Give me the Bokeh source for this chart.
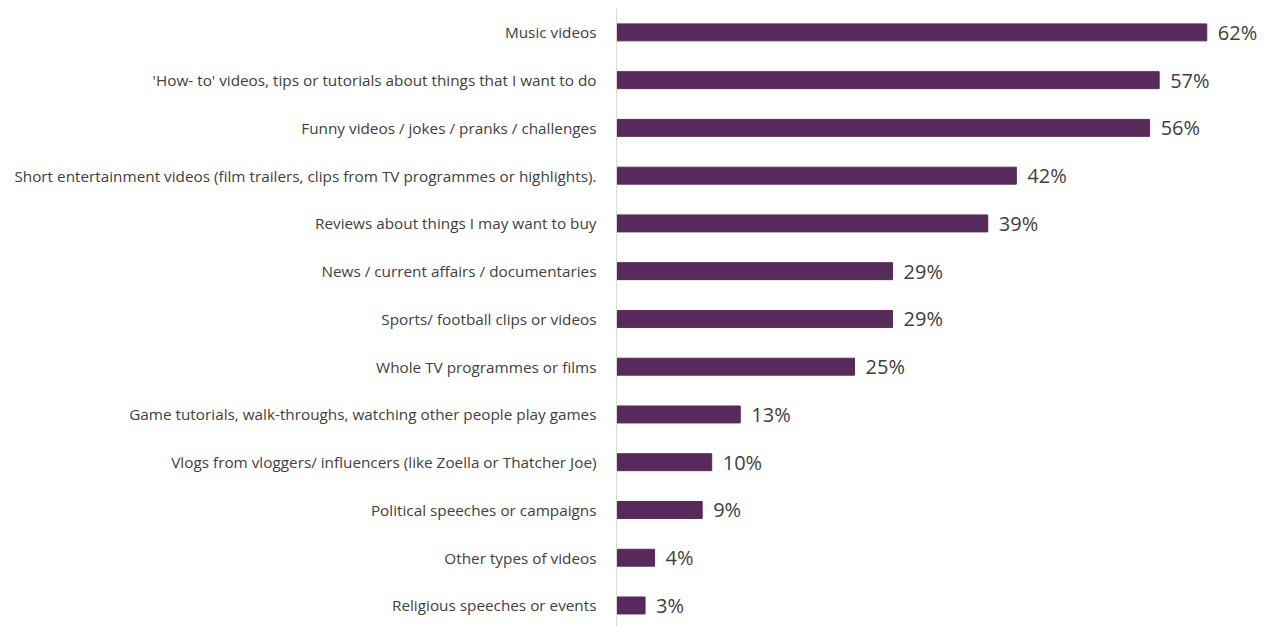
from bokeh.plotting import figure
from bokeh.models import Range1d, ColumnDataSource, FixedTicker
from bokeh.embed import file_html
from bokeh.resources import INLINE
from bokeh.core.properties import value

categories = [
    "Music videos",
    "'How- to' videos, tips or tutorials about things that I want to do",
    "Funny videos / jokes / pranks / challenges",
    "Short entertainment videos (film trailers, clips from TV programmes or highlights).",
    "Reviews about things I may want to buy",
    "News / current affairs / documentaries",
    "Sports/ football clips or videos",
    "Whole TV programmes or films",
    "Game tutorials, walk-throughs, watching other people play games",
    "Vlogs from vloggers/ influencers (like Zoella or Thatcher Joe)",
    "Political speeches or campaigns",
    "Other types of videos",
    "Religious speeches or events",
]
values = [62, 57, 56, 42, 39, 29, 29, 25, 13, 10, 9, 4, 3]

pos = list(range(len(categories)))
src = ColumnDataSource(dict(y=pos, v=values, lbl=[f"{v}%" for v in values]))

p = figure(width=1271, height=626, output_backend="svg", toolbar_location=None,
           x_range=Range1d(0, 68.8), y_range=Range1d(12.44, -0.5),
           min_border_left=616, min_border_right=0, min_border_top=8, min_border_bottom=0)
p.hbar(y="y", left=0, right="v", height=0.355, source=src,
       fill_color="#582A5B", line_color="#582A5B")
p.text(x="v", y="y", text="lbl", source=src, x_offset=11,
       text_baseline="middle", text_align="left", text_font=value("Open Sans"),
       text_font_size="20px", text_color="#404040")

p.xaxis.visible = False
p.yaxis.ticker = FixedTicker(ticks=pos)
p.yaxis.major_label_overrides = {i: c for i, c in enumerate(categories)}
p.yaxis.major_tick_line_color = None
p.yaxis.minor_tick_line_color = None
p.yaxis.axis_line_color = "#D9D9D9"
p.yaxis.axis_line_width = 1
p.yaxis.major_label_standoff = 14
p.yaxis.major_label_text_font = "Open Sans"
p.yaxis.major_label_text_font_size = "15.3px"
p.yaxis.major_label_text_color = "#404040"
p.xgrid.visible = False
p.ygrid.visible = False
p.outline_line_color = None

open("out.html", "w").write(file_html(p, INLINE))
